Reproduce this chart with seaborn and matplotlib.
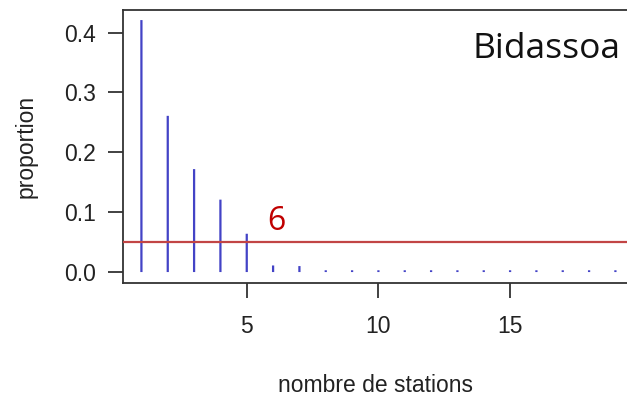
import matplotlib
matplotlib.use("Agg")
import matplotlib.pyplot as plt
import seaborn as sns
import pandas as pd

stations = [1, 2, 3, 4, 5, 6, 7, 8, 9, 10, 11, 12, 13, 14, 15, 16, 17, 18, 19, 20]
proportion = [0.421, 0.261, 0.172, 0.121, 0.064, 0.011, 0.010,
              0.003, 0.003, 0.003, 0.003, 0.003, 0.003, 0.003, 0.003,
              0.003, 0.003, 0.003, 0.003, 0.003]
threshold = 0.05
threshold_label = "6"
panel_title = "Bidassoa"
x_ticks = [5, 10, 15]
y_ticks = [0.0, 0.1, 0.2, 0.3, 0.4]
y_tick_labels = ["0.0", "0.1", "0.2", "0.3", "0.4"]

df = pd.DataFrame({"stations": stations, "proportion": proportion})

sns.set_style("ticks")
plt.rcParams["font.family"] = ["Liberation Sans", "DejaVu Sans"]

fig = plt.figure(figsize=(6.27, 4.01), dpi=100)
ax = fig.add_axes([0.1967, 0.295, 0.8033, 0.68])

sns.histplot(data=df, x="stations", weights="proportion", discrete=True,
             shrink=0.085, color="#4343C6", alpha=1, edgecolor="none",
             linewidth=0, ax=ax)
for p in ax.patches:
    p.set_snap(False)

ax.axhline(threshold, color="#C24545", lw=1.6, zorder=3)
ax.text(5.78, 0.057, threshold_label, color="#C00000", fontsize=23,
        family=["Open Sans", "DejaVu Sans"], ha="left", va="bottom")
ax.text(0.988, 0.857, panel_title, transform=ax.transAxes, fontsize=25.5,
        family=["Open Sans", "DejaVu Sans"], ha="right", va="center",
        color="#111111")

ax.set_xlim(0.313, 19.44)
ax.set_ylim(-0.0178, 0.4378)
ax.set_xticks(x_ticks)
ax.set_xticklabels([str(t) for t in x_ticks])
ax.set_yticks(y_ticks)
ax.set_yticklabels(y_tick_labels)

for s in ["left", "bottom", "top"]:
    ax.spines[s].set_visible(True)
    ax.spines[s].set_color("#333333")
    ax.spines[s].set_linewidth(1.3)
ax.spines["right"].set_visible(False)

ax.tick_params(axis="both", length=10.5, width=1.3, color="#333333",
               labelsize=16.5, labelcolor="#222222")
ax.tick_params(axis="y", pad=9)
ax.tick_params(axis="x", pad=13)

ax.set_xlabel("nombre de stations", fontsize=16.5, color="#222222", labelpad=26)
ax.set_ylabel("proportion", fontsize=16.5, color="#222222", labelpad=19)

fig.savefig("out.png", dpi=100)
